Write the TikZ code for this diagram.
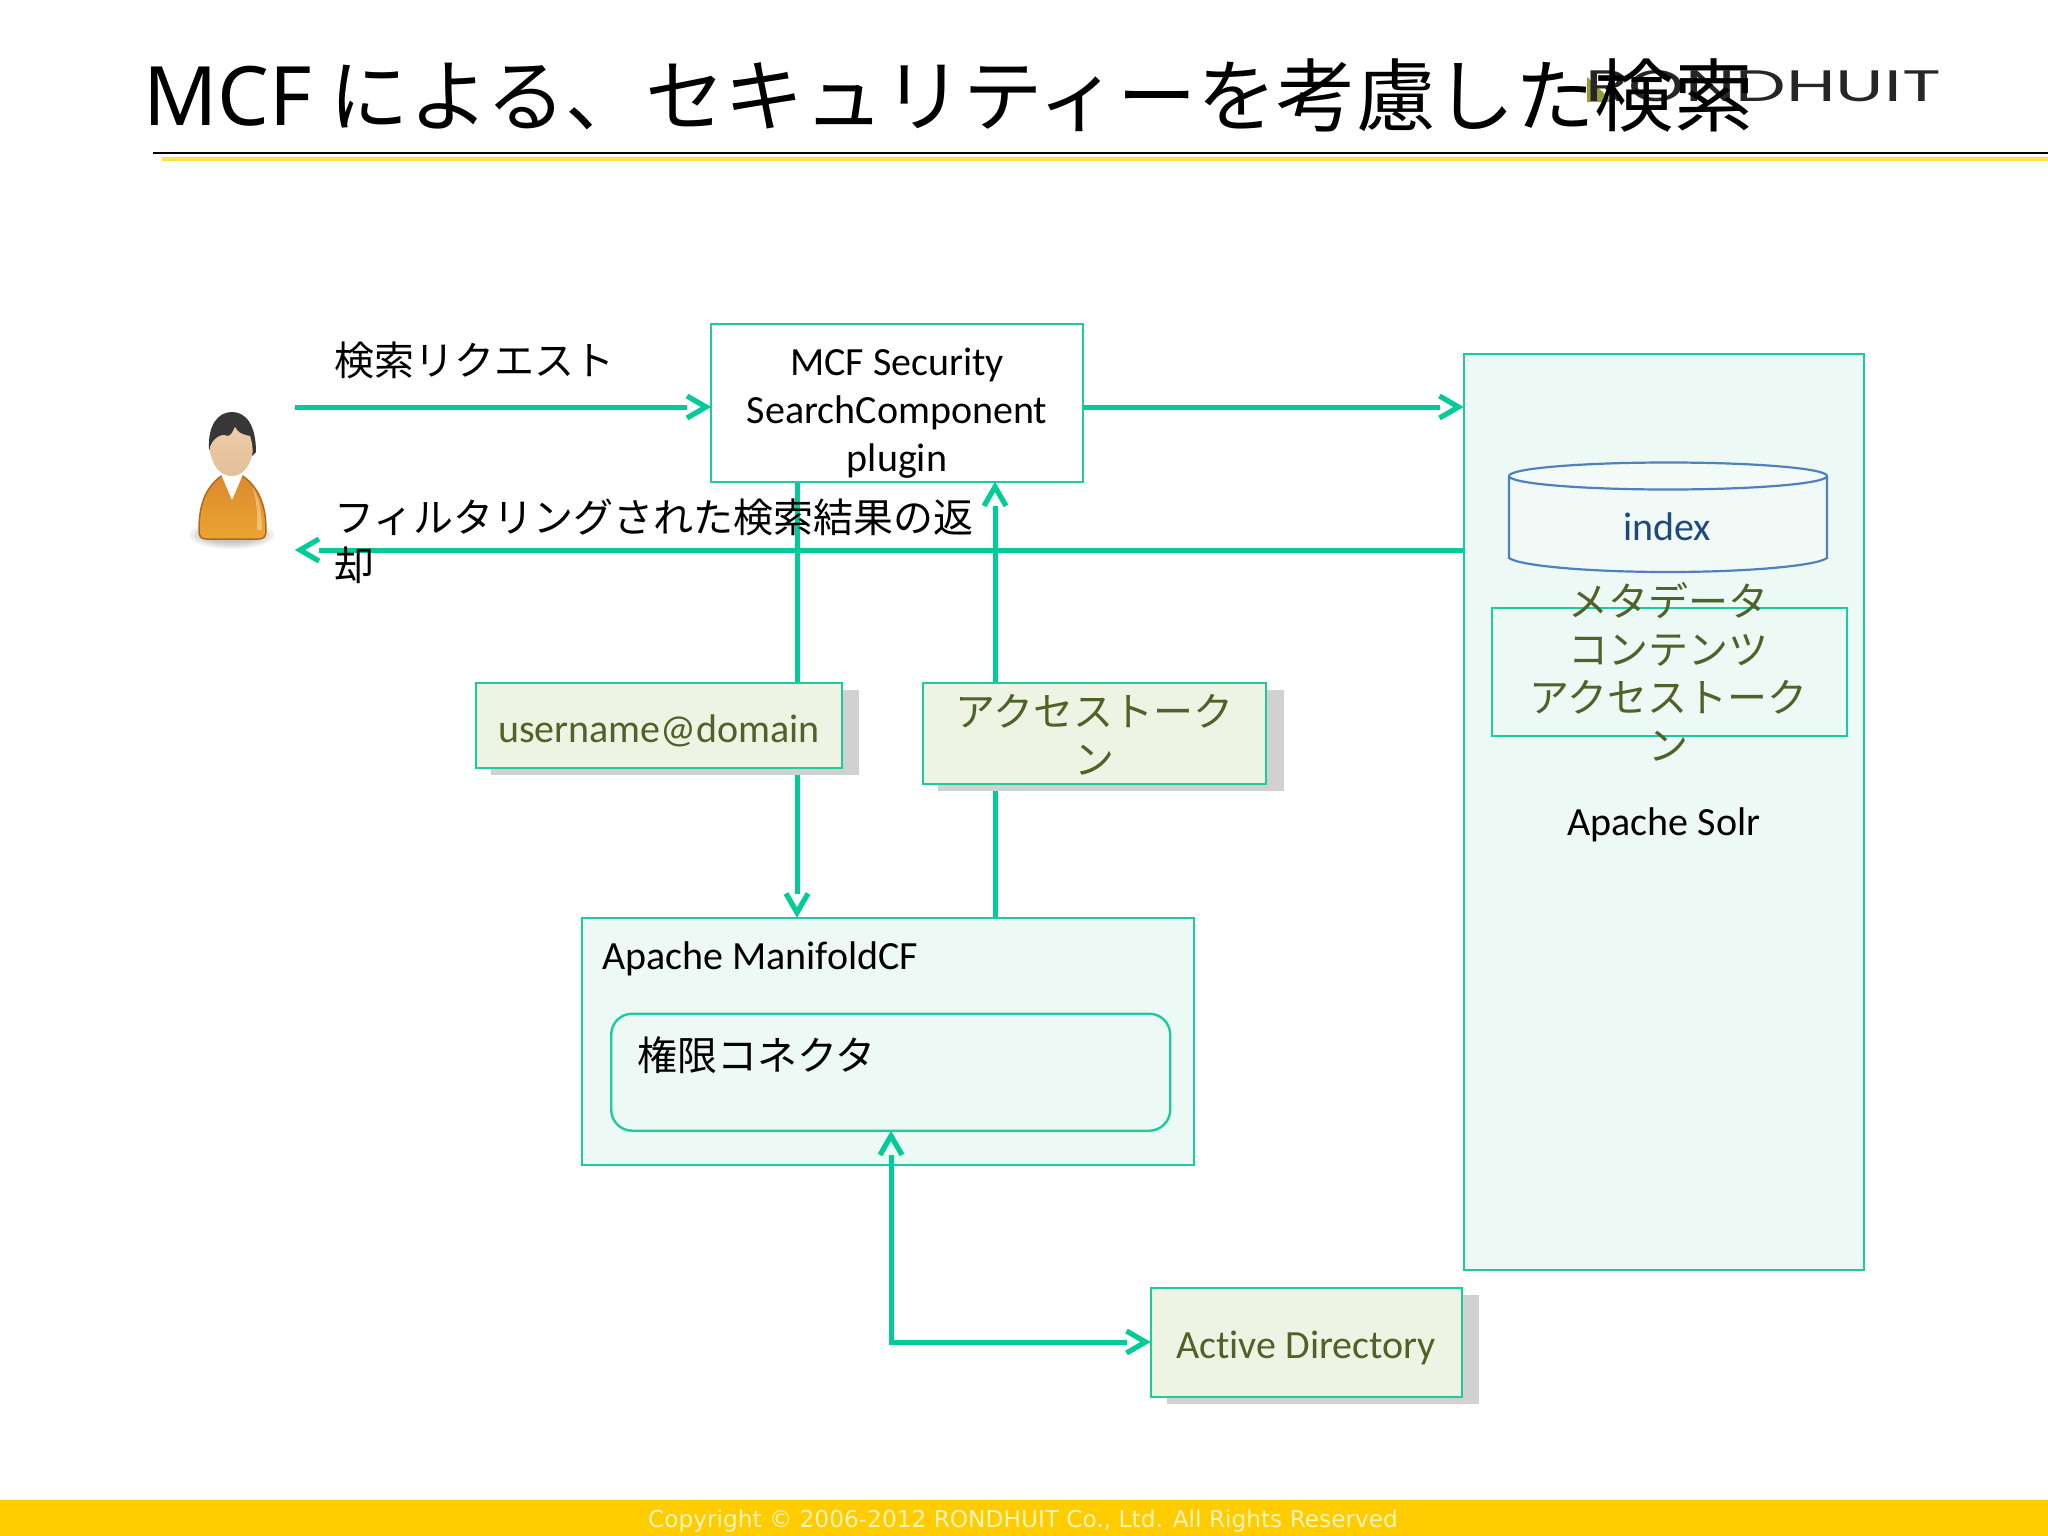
\documentclass[tikz,border=0pt]{standalone}
\usepackage{fontspec}
\setmainfont{Carlito}[Ligatures=NoCommon]
\newfontfamily\cjk{Noto Sans CJK JP}
\newfontfamily\ttl{Noto Sans}
\newfontfamily\logofont{Poppins}
\newfontfamily\foot{DejaVu Sans}
\usetikzlibrary{arrows.meta,shapes.geometric}
\definecolor{flowc}{HTML}{00CC99}
\definecolor{edgec}{HTML}{1DCB9E}
\definecolor{panel}{HTML}{EDF9F4}
\definecolor{tagc}{HTML}{EEF3E4}
\definecolor{tagtext}{HTML}{4F6228}
\definecolor{cylc}{HTML}{4F81BD}
\definecolor{cyltext}{HTML}{1F497D}
\pgfdeclarearrow{
  name=GapBarb,
  parameters={gapbarb},
  setup code={%
    \pgfarrowssettipend{0pt}%
    \pgfarrowssetlineend{-23pt}%
    \pgfarrowssetvisualbackend{-23pt}%
    \pgfarrowssetbackend{-23pt}%
  },
  drawing code={%
    \pgfsetdash{}{0pt}%
    \pgfsetlinewidth{5.2pt}%
    \pgfsetmiterjoin
    \pgfsetbuttcap
    \pgfpathmoveto{\pgfqpoint{-23pt}{11pt}}%
    \pgfpathlineto{\pgfqpoint{-4pt}{0pt}}%
    \pgfpathlineto{\pgfqpoint{-23pt}{-11pt}}%
    \pgfusepathqstroke
  }
}
\tikzset{
  flow/.style={draw=flowc,line width=5pt},
  tip/.style={-{GapBarb}},
  box/.style={draw=edgec,line width=2.4pt,inner sep=0pt,anchor=north west},
  panelbox/.style={box,fill=panel},
  tag/.style={box,fill=tagc},
  txt/.style={inner sep=0pt,align=center,font=\fontsize{40}{48}\selectfont},
  jp/.style={inner sep=0pt,align=center,font=\fontsize{40}{48}\cjk\selectfont},
}
\begin{document}
\begin{tikzpicture}[x=1pt,y=-1pt]
\useasboundingbox (0,0) rectangle (2048,1536);
\fill[white] (0,0) rectangle (2048,1536);
% footer
\fill[fill={rgb,255:red,255;green,204;blue,0}] (0,1500) rectangle (2048,1536);
\node[inner sep=0pt,text={rgb,255:red,255;green,243;blue,190},font=\fontsize{23.25}{26}\foot\selectfont] (copy) at (1023,1521) {Copyright © 2006-2012 RONDHUIT Co., Ltd. All Rights Reserved};
% rules
\draw[line width=2.4pt,black] (153,153) -- (2048,153);
\draw[line width=3.2pt,draw={rgb,255:red,255;green,222;blue,70}] (162,159) -- (2048,159);
% logo
\fill[fill={rgb,255:red,155;green,155;blue,55}] (1587,77) -- (1613,102) -- (1587,102) -- cycle;
\node[inner sep=0pt,anchor=base west,text=black!85] (logo) at (1585,102) {\scalebox{1.63}[1]{\fontsize{44}{44}\logofont\selectfont RONDHUIT}};
% title
\node[inner sep=0pt,anchor=base west,font=\fontsize{79.5}{80}\cjk\selectfont] (title) at (143,126) {{\fontsize{82}{80}\ttl\selectfont MCF} による、セキュリティーを考慮した検索};
% panels
\node[panelbox,minimum width=400pt,minimum height=916pt] (solr) at (1462.5,352.5) {};
\node[panelbox,minimum width=612pt,minimum height=247pt] (mcf) at (581,916.5) {};
\node[box,rounded corners=21pt,fill=panel,minimum width=559pt,minimum height=117pt] (conn) at (610,1012.5) {};
\node[box,fill=white,minimum width=372pt,minimum height=158pt] (comp) at (710,322.5) {};
% person
\foreach \r/\s in {42/14,38/12,34/10,30/8}
  \fill[black,opacity=.06] (232,535) ellipse ({\r} and {\s});
\draw[draw={rgb,255:red,178;green,105;blue,30},line width=1.5pt,top color={rgb,255:red,218;green,135;blue,45},bottom color={rgb,255:red,235;green,165;blue,50}]
  (199,530) .. controls (199,505) and (205,482) .. (232,470) .. controls (259,482) and (266,505) .. (266,530) .. controls (266,537) and (264,539) .. (258,539) -- (207,539) .. controls (201,539) and (199,537) .. (199,530) -- cycle;
\fill[white,opacity=.35] (252,486) .. controls (258,495) and (262,510) .. (262,530) -- (257,530) .. controls (258,512) and (256,497) .. (252,486) -- cycle;
\fill[white] (220,472) -- (232,500) -- (244,472) -- (240,462) -- (224,462) -- cycle;
\fill[fill={rgb,255:red,55;green,55;blue,55}] (209,448) .. controls (208,425) and (218,412) .. (232,412) .. controls (246,412) and (256,425) .. (256,452) -- (252,456) -- (212,456) -- cycle;
\shade[top color={rgb,255:red,236;green,205;blue,170},bottom color={rgb,255:red,228;green,190;blue,150}]
  (210,448) .. controls (211,440) and (222,432) .. (227,436) .. controls (232,436) and (233,430) .. (235,427) .. controls (238,432) and (240,434) .. (250,436) .. controls (253,445) and (253,452) .. (252,456) .. controls (249,468) and (241,476) .. (232,476) .. controls (220,476) and (211,465) .. (210,448) -- cycle;
% connectors below tags
\coordinate (usr) at (295,407);
\coordinate (back) at (296,550);
\draw[flow,tip] (usr) -- (comp.west |- usr);
\draw[flow,tip] (comp.east |- usr) -- (solr.west |- usr);
\draw[flow,tip] (solr.west |- back) -- (back);
\coordinate (dn) at (797,0);
\coordinate (up) at (995,0);
\draw[flow,tip] (dn |- comp.south) -- (dn |- mcf.north);
\draw[flow,tip] (up |- mcf.north) -- (up |- comp.south);
% tags
\fill[black!18] (491,690) rectangle (859,775);
\node[tag,minimum width=366pt,minimum height=85pt] (user) at (475,682) {};
\fill[black!18] (938,690) rectangle (1284,791);
\node[tag,minimum width=343pt,minimum height=101pt] (token) at (922,682) {};
\fill[black!18] (1167,1295) rectangle (1479,1404);
\node[tag,minimum width=311pt,minimum height=109pt] (ad) at (1149.5,1286.5) {};
% AD connector
\coordinate (bend) at (891,1342);
\draw[flow,{GapBarb}-{GapBarb}] (conn.south -| bend) -- (bend) -- (ad.west |- bend);
% cylinder
\draw[draw=cylc,line width=2.2pt,fill=white,fill opacity=.25] (1509,476) -- (1509,558) .. controls (1520,566) and (1590,572) .. (1668,572) .. controls (1746,572) and (1816,566) .. (1827,558) -- (1827,476);
\draw[draw=cylc,line width=2.2pt,fill=white,fill opacity=.35] (1668,476) ellipse (159 and 13.5);
\node[box,minimum width=355pt,minimum height=128pt,fill=panel] (meta) at (1490.5,606.5) {};
% texts
\node[jp,anchor=base west] (reqt) at (334,375) {検索リクエスト};
\node[txt] (compt) at (897,413) {MCF Security\\SearchComponent\\plugin};
\node[jp,anchor=north west,align=left] (rest) at (334,499) {フィルタリングされた検索結果の返\\却};
\node[txt,anchor=base,text=tagtext] (usert) at (659,742) {username@domain};
\node[jp,text=tagtext] (tokent) at (1094,735) {アクセストーク\\ン};
\node[txt,anchor=base west] (mcft) at (602,969) {Apache ManifoldCF};
\node[jp,anchor=base west] (connt) at (637,1070) {権限コネクタ};
\node[txt,anchor=base,text=tagtext] (adt) at (1306,1358) {Active Directory};
\node[txt,anchor=base,text=cyltext] (indext) at (1667,540) {index};
\node[jp,text=tagtext] (metat) at (1668,672) {メタデータ\\コンテンツ\\アクセストーク\\ン};
\node[txt,anchor=base] (solrt) at (1664,835) {Apache Solr};
\end{tikzpicture}
\end{document}
